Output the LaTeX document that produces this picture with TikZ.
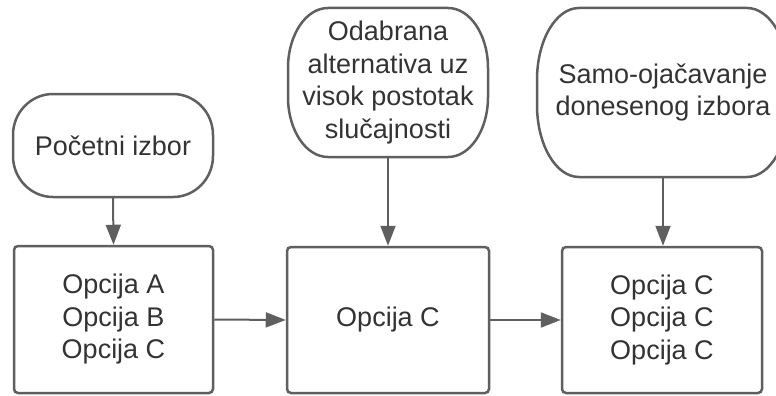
\documentclass[tikz,border=0pt]{standalone}
\usepackage{fontspec}
\setmainfont{Liberation Sans}
\usetikzlibrary{arrows.meta}
\definecolor{edge}{HTML}{5F5F5F}
\definecolor{txt}{HTML}{333333}
\newcommand\termpath[3]{%
 \draw[termline] ([xshift=#2]#1.north west) -- ([xshift=-#2]#1.north east)
   arc[start angle=90,end angle=0,x radius=#2,y radius=#3]
   -- ([yshift=#3]#1.south east)
   arc[start angle=0,end angle=-90,x radius=#2,y radius=#3]
   -- ([xshift=#2]#1.south west)
   arc[start angle=270,end angle=180,x radius=#2,y radius=#3]
   -- ([yshift=-#3]#1.north west)
   arc[start angle=180,end angle=90,x radius=#2,y radius=#3] -- cycle;}
\begin{document}
\begin{tikzpicture}[x=1pt,y=-1pt,
  base/.style={text=txt, align=center,
    font=\fontsize{27}{32.5}\selectfont, inner sep=0pt},
  box/.style={base, draw=edge, line width=2.5pt, fill=white, rounded corners=4pt},
  term/.style={base, outer sep=0pt},
  termline/.style={draw=edge, line width=2.5pt},
  conn/.style={draw=edge, line width=2pt, -{Triangle[length=20pt,width=15pt]}, color=edge}
]
\clip (0,0) rectangle (776,396);
\node[box, minimum width=199pt, minimum height=147pt] (b1) at (113.5,319.5) {Opcija A\\Opcija B\\Opcija C};
\node[box, minimum width=202pt, minimum height=146pt] (b2) at (388,320) {Opcija C};
\node[box, minimum width=200pt, minimum height=146pt] (b3) at (662,320) {Opcija C\\Opcija C\\Opcija C};
\node[term, minimum width=200pt, minimum height=103pt] (t1) at (113,145.5) {Početni izbor};
\node[term, minimum width=200pt, minimum height=149pt] (t2) at (388,82.5) {Odabrana\\alternativa uz\\visok postotak\\slučajnosti};
\node[term, minimum width=252pt, minimum height=169pt] (t3) at (663,92.5) {Samo-ojačavanje\\donesenog izbora};
\termpath{t1}{40pt}{41pt}
\termpath{t2}{40pt}{60pt}
\termpath{t3}{42pt}{72pt}
\draw[conn] (t1.south) -- (b1.north);
\draw[conn] (t2.south) -- (b2.north);
\draw[conn] (t3.south) -- (t3.south |- b3.north);
\draw[conn] (b1.east) -- (b2.west);
\draw[conn] (b2.east) -- (b3.west);
\end{tikzpicture}
\end{document}
